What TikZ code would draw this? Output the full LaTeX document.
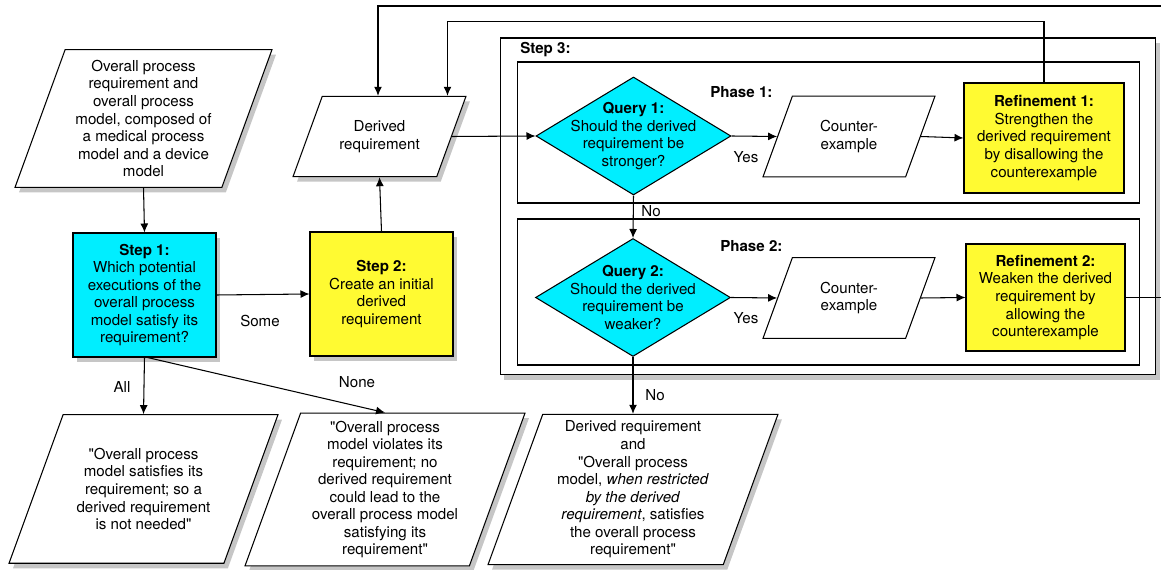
\documentclass[tikz,border=0pt]{standalone}
\usepackage{fontspec}
\setmainfont{TeX Gyre Heros}[Ligatures=TeXOff]
\usetikzlibrary{shapes.geometric, arrows.meta, shadows, calc}

\definecolor{stepcyan}{RGB}{0,238,255}
\definecolor{stepyellow}{RGB}{255,250,50}

\begin{document}
\begin{tikzpicture}[
    x=0.02cm, y=-0.02cm, line width=0.6pt,
    font=\fontsize{8.6}{10}\selectfont,
    box/.style={draw, rectangle, align=center, inner sep=2pt},
    shade/.style={drop shadow={opacity=0.45, shadow xshift=0.8mm, shadow yshift=-1mm}},
    io/.style={draw, trapezium, trapezium left angle=70, trapezium right angle=110,
               trapezium stretches body, align=center, fill=white, inner xsep=1pt},
    query/.style={draw, diamond, fill=stepcyan, inner sep=0pt,
                  minimum width=3.9cm, minimum height=2.36cm},
    frame/.style={draw, rectangle},
    arrow/.style={-{Latex[length=1.8mm, width=1.6mm]}},
    lbl/.style={inner sep=1pt}
]
    \useasboundingbox (0,0) rectangle (1161,570);
    \clip (0,0) rectangle (1161,570);

    % Step 3 with its two phases
    \node[frame, shade, fill=white, minimum width=13.12cm, minimum height=6.74cm] (step3) at (828,206.5) {};
    \node[frame, minimum width=12.46cm, minimum height=2.82cm] (phase1) at (828.5,132.5) {};
    \node[frame, minimum width=12.46cm, minimum height=2.92cm] (phase2) at (828.5,292) {};
    \node[lbl, anchor=west] (step3lbl) at (518,50) {\textbf{Step 3:}};
    \node[lbl, anchor=west] (phase1lbl) at (708,92) {\textbf{Phase 1:}};
    \node[lbl, anchor=west] (phase2lbl) at (718,246) {\textbf{Phase 2:}};

    \node[io, shade, inner ysep=5.9pt, minimum width=5.14cm] (input) at (143.5,118.5)
        {Overall process\\requirement and\\overall process\\model, composed of\\a medical process\\model and a device\\model};
    \node[io, shade, inner ysep=13.8pt, minimum width=3.46cm] (derived) at (379.5,136.5)
        {Derived\\requirement};

    \node[box, shade, fill=stepcyan, minimum width=2.86cm, minimum height=2.48cm] (step1) at (144.5,295)
        {\textbf{Step 1:}\\Which potential\\executions of the\\overall process\\model satisfy its\\requirement?};
    \node[box, shade, fill=stepyellow, minimum width=2.86cm, minimum height=2.48cm] (step2) at (381.5,294)
        {\textbf{Step 2:}\\Create an initial\\derived\\requirement};

    \node[io, shade, inner ysep=19pt, minimum width=5.38cm] (out1) at (143.5,489)
        {"Overall process\\model satisfies its\\requirement; so a\\derived requirement\\is not needed"};
    \node[io, shade, inner ysep=4.3pt, minimum width=5.6cm] (out2) at (385,489.5)
        {"Overall process\\model violates its\\requirement; no\\derived requirement\\could lead to the\\overall process model\\satisfying its\\requirement"};
    \node[io, shade, inner ysep=3.7pt, minimum width=5.8cm] (out3) at (633,489.5)
        {Derived requirement\\and\\"Overall process\\model, \textit{when restricted}\\\textit{by the derived}\\\textit{requirement}, satisfies\\the overall process\\requirement"};

    \node[query, label={[align=center]center:{\textbf{Query 1:}\\Should the derived\\requirement be\\stronger?}}] (query1) at (633.5,136) {};
    \node[query, label={[align=center]center:{\textbf{Query 2:}\\Should the derived\\requirement be\\weaker?}}] (query2) at (633,297.5) {};

    \node[io, inner ysep=13.8pt, minimum width=3.44cm] (ce1) at (849,136.5) {Counter-\\example};
    \node[io, inner ysep=13.8pt, minimum width=3.44cm] (ce2) at (849,298) {Counter-\\example};

    \node[box, fill=stepyellow, minimum width=3.2cm, minimum height=2.2cm] (ref1) at (1044,138)
        {\textbf{Refinement 1:}\\Strengthen the\\derived requirement\\by disallowing the\\counterexample};
    \node[box, fill=stepyellow, minimum width=3.18cm, minimum height=2.14cm] (ref2) at (1045.5,297.5)
        {\textbf{Refinement 2:}\\Weaken the derived\\requirement by\\allowing the\\counterexample};

    % edge labels
    \node[lbl] (some) at (260,321) {Some};
    \node[lbl] (all) at (122,387) {All};
    \node[lbl] (none) at (357,382) {None};
    \node[lbl] (yes1) at (746,157) {Yes};
    \node[lbl] (yes2) at (746,318) {Yes};
    \node[lbl] (no1) at (651,211) {No};
    \node[lbl] (no2) at (655,395) {No};

    \draw[arrow] (input.south) -- (step1.north);
    \draw[arrow] (step1.east) -- (step2.west);
    \draw[arrow] (step2.north) -- (derived.south);
    \draw[arrow] (step1.south) -- (out1.north);
    \draw[arrow] ($(step1.south)+(3,0)$) -- (out2.north);
    \draw[arrow] (derived.east) -- (query1.west);
    \draw[arrow] (query1.east) -- (ce1.west);
    \draw[arrow] (ce1.east) -- (ref1.west);
    \draw[arrow] (query1.south) -- (query2.north);
    \draw[arrow] (query2.east) -- (ce2.west);
    \draw[arrow] (ce2.east) -- (ref2.west);
    \draw[arrow] (query2.south) -- (query2.south |- out3.north);

    % loops back to the derived requirement
    \coordinate (offright) at (1180,6);
    \draw[arrow] (ref1.north) -- ++(0,-61) -| ($(derived.north)+(68,0)$);
    \draw[arrow] (ref2.east) -| (offright) -| ($(derived.north)+(-1.5,0)$);
\end{tikzpicture}
\end{document}
